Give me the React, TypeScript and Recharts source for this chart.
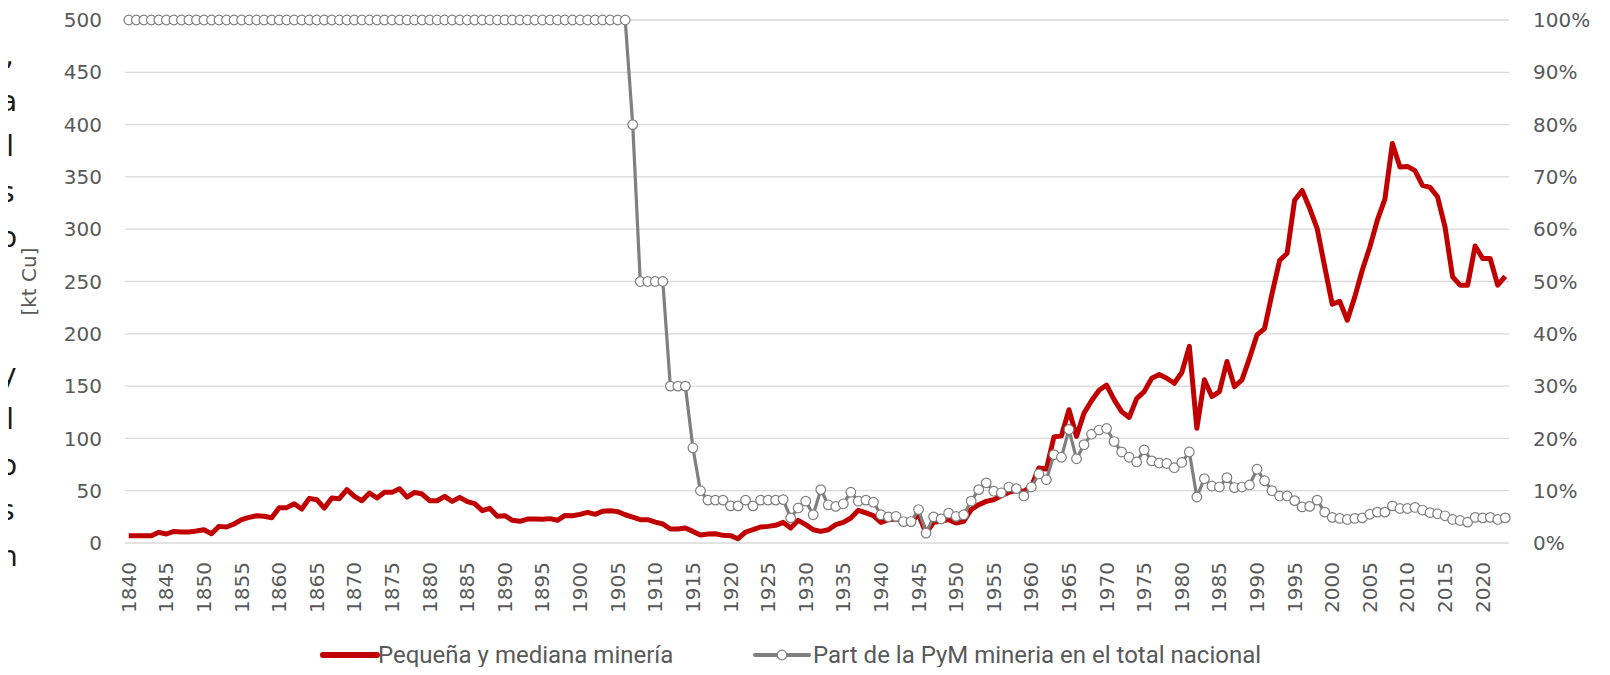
import React from "react";
import { LineChart, Line, XAxis, YAxis, CartesianGrid } from "recharts";

// Pequeña y mediana minería, production [kt Cu], 1840-2023
const firstYear = 1840;

const pymKt = [
  7, 7, 7, 7, 10.2, 8.6, 11.1, 10.5, 10.5, 11.5,
  12.7, 8.9, 15.9, 15.3, 18.2, 22.3, 24.5, 26.1, 25.5, 24.2,
  33.8, 33.8, 37.6, 32.5, 42.7, 41.4, 33.4, 43, 42.4, 51,
  44.6, 40.4, 47.8, 43, 48.4, 48.4, 51.9, 43.9, 48.4, 46.8,
  40.4, 40.4, 44.6, 39.8, 43.6, 39.5, 37.6, 30.9, 33.1, 25.5,
  26.1, 21.7, 20.7, 22.9, 22.9, 22.6, 23.3, 21.7, 26.4, 26.1,
  27.4, 29.3, 27.4, 30.3, 30.9, 30, 27, 24.8, 22.3, 22.3,
  20, 18.2, 13.4, 13.4, 14.3, 11.1, 7.6, 8.6, 8.9, 7.3,
  7, 4.1, 10.5, 12.7, 15.3, 15.9, 16.9, 19.7, 14.3, 21.7,
  17.5, 12.7, 11.1, 12.7, 17.5, 19.7, 23.9, 31.2, 28.7, 26.1,
  19.7, 22.3, 22.9, 21.7, 20.7, 27, 9.6, 19.7, 20.7, 22.3,
  19.1, 20.7, 31.9, 36.6, 39.8, 41.4, 45.2, 48.4, 50.3, 49.4,
  54.1, 71.7, 70.7, 101.3, 102.6, 127.4, 101.9, 124.2, 136, 146,
  151, 137, 125.6, 120, 138, 144.7, 157.5, 161, 157.5, 152.7,
  163, 188, 109.6, 156, 140, 144.7, 173.5, 149.5, 156, 176.7,
  199, 205, 238.5, 270, 277, 327.7, 337, 320, 300.6, 264,
  228.3, 231, 213, 235.3, 261, 283, 308.6, 328.7, 382, 359.5,
  360, 356, 342, 340, 331, 302, 254.4, 246.5, 246.5, 284,
  272, 272, 246.5, 255,
];

// Part de la PyM minería en el total nacional [%]
const pymShare = [
  100, 100, 100, 100, 100, 100, 100, 100, 100, 100,
  100, 100, 100, 100, 100, 100, 100, 100, 100, 100,
  100, 100, 100, 100, 100, 100, 100, 100, 100, 100,
  100, 100, 100, 100, 100, 100, 100, 100, 100, 100,
  100, 100, 100, 100, 100, 100, 100, 100, 100, 100,
  100, 100, 100, 100, 100, 100, 100, 100, 100, 100,
  100, 100, 100, 100, 100, 100, 100, 80, 50, 50,
  50, 50, 30, 30, 30, 18.2, 10, 8.2, 8.2, 8.2,
  7.1, 7.1, 8.2, 7.1, 8.2, 8.2, 8.2, 8.3, 4.8, 6.7,
  8, 5.4, 10.2, 7.3, 7, 7.5, 9.7, 8, 8.2, 7.8,
  5.4, 5, 5.1, 4.1, 4.1, 6.4, 1.9, 5, 4.6, 5.7,
  5.1, 5.4, 8, 10.2, 11.5, 9.9, 9.6, 10.7, 10.4, 9,
  10.7, 13.2, 12.1, 16.9, 16.4, 21.7, 16.1, 18.8, 20.8, 21.6,
  21.9, 19.4, 17.4, 16.4, 15.5, 17.8, 15.7, 15.3, 15.2, 14.4,
  15.4, 17.4, 8.8, 12.3, 10.9, 10.7, 12.5, 10.6, 10.7, 11.1,
  14.1, 11.9, 10, 9, 9, 8.1, 6.9, 7, 8.2, 5.9,
  4.9, 4.7, 4.5, 4.7, 4.8, 5.5, 5.9, 5.9, 7.1, 6.6,
  6.6, 6.8, 6.3, 5.8, 5.6, 5.2, 4.5, 4.3, 4, 4.9,
  4.8, 4.9, 4.5, 4.8,
];

const yearTicks = [
  1840, 1845, 1850, 1855, 1860, 1865, 1870, 1875, 1880, 1885, 1890, 1895,
  1900, 1905, 1910, 1915, 1920, 1925, 1930, 1935, 1940, 1945, 1950, 1955,
  1960, 1965, 1970, 1975, 1980, 1985, 1990, 1995, 2000, 2005, 2010, 2015, 2020,
];
const ktTicks = [0, 50, 100, 150, 200, 250, 300, 350, 400, 450, 500];
const shareTicks = [0, 10, 20, 30, 40, 50, 60, 70, 80, 90, 100];

const seriesNames = ["Pequeña y mediana minería", "Part de la PyM mineria en el total nacional"];

// right-hand ends of a text block that got cropped off the left edge
const croppedLines = [",", "a", "l", "s", "o", "", "", "y", "l", "o", "s", "n"];

const data = pymKt.map((kt, i) => ({ year: firstYear + i, kt, share: pymShare[i] }));

const RED = "#C00000";
const GREY = "#7F7F7F";
const TEXT = "#595959";
const FONT = "'DejaVu Sans', sans-serif";

function YearTick({ x, y, payload }: any) {
  const ty = y + 11;
  return (
    <text
      x={x}
      y={ty}
      transform={`rotate(-90, ${x}, ${ty})`}
      textAnchor="end"
      dominantBaseline="central"
      fill={TEXT}
      fontSize={20}
      fontFamily={FONT}
    >
      {payload.value}
    </text>
  );
}

export default function App() {
  return (
    <div style={{ position: "relative", width: 1594, height: 659 }}>
      <LineChart width={1594} height={659} data={data} margin={{ top: 12, right: 0, bottom: 0, left: 0 }}>
        <CartesianGrid vertical={false} stroke="#D9D9D9" strokeWidth={1.3} />
        <XAxis
          dataKey="year"
          type="number"
          domain={[1839.5, 2023.5]}
          ticks={yearTicks}
          interval={0}
          tickLine={false}
          axisLine={false}
          height={124}
          tick={<YearTick />}
        />
        <YAxis
          domain={[0, 500]}
          ticks={ktTicks}
          width={117}
          tickLine={false}
          axisLine={false}
          tickMargin={17}
          tick={{ fill: TEXT, fontSize: 20, fontFamily: FONT }}
          label={{
            content: () => (
              <text
                x={21}
                y={273.5}
                transform="rotate(-90, 21, 273.5)"
                textAnchor="middle"
                dominantBaseline="central"
                fill={TEXT}
                fontSize={20}
                fontFamily={FONT}
              >
                [kt Cu]
              </text>
            ),
          }}
        />
        <YAxis
          yAxisId="right"
          orientation="right"
          domain={[0, 100]}
          ticks={shareTicks}
          width={93}
          tickLine={false}
          axisLine={false}
          tickMargin={18}
          tickFormatter={(v) => `${v}%`}
          tick={{ fill: TEXT, fontSize: 20, fontFamily: FONT }}
        />
        <Line
          type="linear"
          dataKey="kt"
          name={seriesNames[0]}
          stroke={RED}
          strokeWidth={5}
          strokeLinejoin="round"
          dot={false}
          isAnimationActive={false}
        />
        <Line
          type="linear"
          yAxisId="right"
          dataKey="share"
          name={seriesNames[1]}
          stroke={GREY}
          strokeWidth={3.2}
          dot={{ r: 4.8, fill: "#FFFFFF", stroke: GREY, strokeWidth: 1.2 }}
          isAnimationActive={false}
        />
      </LineChart>

      <div
        style={{
          position: "absolute",
          left: -8,
          top: 25,
          width: 14,
          textAlign: "right",
          fontFamily: FONT,
          fontSize: 28,
          lineHeight: "45.5px",
          color: "#1A1A1A",
          whiteSpace: "pre",
        }}
      >
        {croppedLines.map((c, i) => (
          <div key={i} style={{ height: 45.5 }}>
            {c || " "}
          </div>
        ))}
      </div>

      <div
        style={{
          position: "absolute",
          left: 0,
          top: 633,
          width: 1594,
          height: 28,
          fontFamily: "Roboto, sans-serif",
          fontSize: 24,
          color: TEXT,
        }}
      >
        <svg style={{ position: "absolute", left: 312, top: 0 }} width={60} height={28}>
          <line x1={3} y1={14} x2={57} y2={14} stroke={RED} strokeWidth={6} strokeLinecap="round" />
        </svg>
        <span style={{ position: "absolute", left: 370, top: 0, lineHeight: "28px" }}>{seriesNames[0]}</span>
        <svg style={{ position: "absolute", left: 744, top: 0 }} width={60} height={28}>
          <line x1={3} y1={14} x2={57} y2={14} stroke={GREY} strokeWidth={4} strokeLinecap="round" />
          <circle cx={30} cy={14} r={4.8} fill="#FFFFFF" stroke={GREY} strokeWidth={1.2} />
        </svg>
        <span style={{ position: "absolute", left: 805, top: 0, lineHeight: "28px" }}>{seriesNames[1]}</span>
      </div>
    </div>
  );
}
